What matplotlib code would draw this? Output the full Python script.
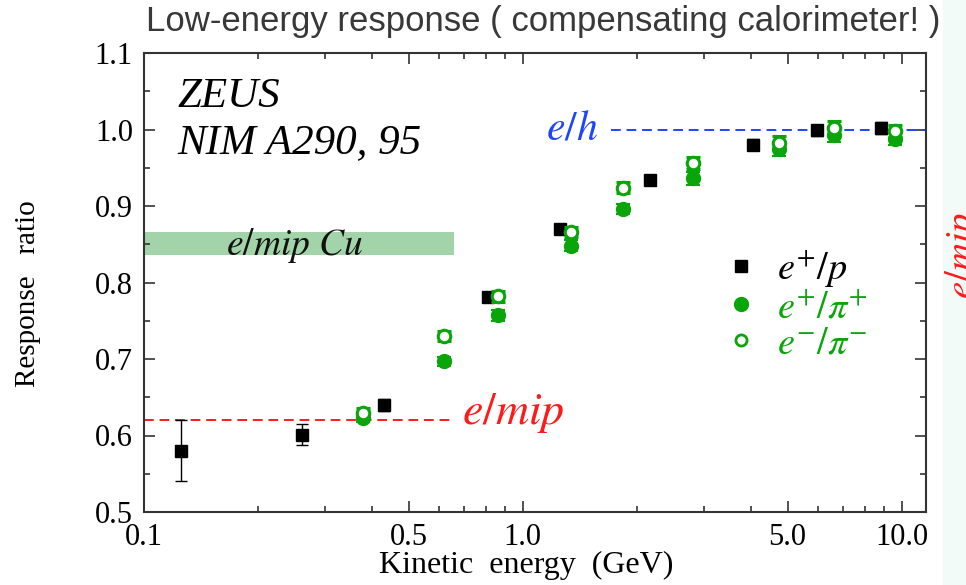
import numpy as np
import matplotlib.pyplot as plt
from matplotlib.patches import Rectangle
from matplotlib.lines import Line2D
from matplotlib.ticker import FixedLocator, NullFormatter

plt.rcParams['mathtext.fontset'] = 'stix'
SERIF = 'Liberation Serif'

# --- data ---
# e+/p
ep_energy = [0.125, 0.262, 0.431, 0.810, 1.25, 2.17, 4.05, 5.98, 8.84]
ep_ratio = [0.580, 0.601, 0.640, 0.781, 0.870, 0.934, 0.980, 0.999, 1.002]
ep_err = [0.040, 0.014, 0.008, 0.004, 0.004, 0.005, 0.007, 0.007, 0.008]

# e+/pi+ and e-/pi- share energies
pi_energy = [0.378, 0.619, 0.861, 1.344, 1.84, 2.81, 4.76, 6.65, 9.58]
pip_ratio = [0.623, 0.697, 0.757, 0.848, 0.896, 0.936, 0.975, 0.993, 0.988]
pip_err = [0.006, 0.006, 0.007, 0.007, 0.007, 0.008, 0.009, 0.009, 0.008]
pim_ratio = [0.630, 0.730, 0.782, 0.866, 0.924, 0.956, 0.983, 1.002, 0.998]
pim_err = [0.006, 0.006, 0.007, 0.007, 0.007, 0.008, 0.009, 0.009, 0.008]

# reference levels
emip_level = 0.62
emip_xmax = 0.658
eh_level = 1.0
eh_xmin = 1.71
emip_cu_low, emip_cu_high = 0.836, 0.866

xticks = [0.1, 0.5, 1.0, 5.0, 10.0]
xticklabels = ['0.1', '0.5', '1.0', '5.0', '10.0']
xminor = [0.2, 0.3, 0.4, 0.6, 0.7, 0.8, 0.9, 2, 3, 4, 6, 7, 8, 9]
yticks = [0.5, 0.6, 0.7, 0.8, 0.9, 1.0, 1.1]

green = '#0aa50a'
red = '#ff1a1a'
blue = '#1f44ff'
axcol = '#333333'

fig = plt.figure(figsize=(9.66, 5.85), dpi=100)
ax = fig.add_axes([144 / 966, 1 - 512 / 585, (926 - 144) / 966, (512 - 53) / 585])

# pale strip on the right edge (neighbouring slide), its label only partly visible
fig.patches.append(Rectangle((943 / 966, 0), 30 / 966, 1, transform=fig.transFigure,
                             color='#f3fbf9', zorder=0))
fig.text(962 / 966, 1 - 255 / 585, r'$e/mip$', rotation=90, color=red, fontsize=28,
         ha='center', va='center')

ax.set_xscale('log')
ax.set_xlim(0.1, 11.6)
ax.set_ylim(0.5, 1.1)

# e/mip Cu band
ax.axhspan(emip_cu_low, emip_cu_high, xmin=0, xmax=np.log10(emip_xmax / 0.1) / np.log10(116),
           color='#a3d4a9', lw=0, zorder=1)
ax.text(0.25, (emip_cu_low + emip_cu_high) / 2 - 0.002, r'$e/mip\ Cu$', fontsize=27,
        ha='center', va='center', color='#111111', zorder=2)

# reference lines
ax.hlines(emip_level, 0.1, emip_xmax, colors=red, linestyles=(0, (5, 3)), lw=1.4, zorder=2)
ax.text(0.69, emip_level + 0.01, r'$e/mip$', color=red, fontsize=33, ha='left', va='center')
ax.hlines(eh_level, eh_xmin, 11.6, colors=blue, linestyles=(0, (5, 3)), lw=1.4, zorder=2)
ax.text(1.58, eh_level + 0.002, r'$e/h$', color=blue, fontsize=30, ha='right', va='center')

# data
ax.errorbar(ep_energy, ep_ratio, yerr=ep_err, fmt='s', color='black', ms=8.5,
            capsize=4, elinewidth=1.0, capthick=1.0, zorder=3)
ax.errorbar(pi_energy, pip_ratio, yerr=pip_err, fmt='o', color=green, ms=10,
            capsize=5, elinewidth=1.5, capthick=1.5, zorder=4)
ax.errorbar(pi_energy, pim_ratio, yerr=pim_err, fmt='o', color=green, mfc='white',
            mec=green, mew=2.2, ms=9, capsize=5, elinewidth=1.5, capthick=1.5, zorder=5)

# annotations
ax.text(0.043, 0.904, 'ZEUS', transform=ax.transAxes, fontsize=31, fontfamily=SERIF,
        style='italic', va='center', ha='left')
ax.text(0.043, 0.804, 'NIM A290, 95', transform=ax.transAxes, fontsize=31, fontfamily=SERIF,
        style='italic', va='center', ha='left')

handles = [
    Line2D([], [], ls='', marker='s', color='black', ms=8),
    Line2D([], [], ls='', marker='o', color=green, ms=10),
    Line2D([], [], ls='', marker='o', color=green, mfc='white', mew=2, ms=8),
]
labels = [r'$e^{+}/p$', r'$e^{+}/\pi^{+}$', r'$e^{-}/\pi^{-}$']
leg = ax.legend(handles, labels, loc='center left', bbox_to_anchor=(0.714, 0.452),
                frameon=False, fontsize=27.5, handlelength=1.0, handletextpad=0.45,
                labelspacing=0.0, borderpad=0)
for t, c in zip(leg.get_texts(), ['black', green, green]):
    t.set_color(c)

# axes styling
ax.xaxis.set_major_locator(FixedLocator(xticks))
ax.set_xticklabels(xticklabels)
ax.xaxis.set_minor_locator(FixedLocator(xminor))
ax.xaxis.set_minor_formatter(NullFormatter())
ax.set_yticks(yticks)
ax.set_yticklabels([f'{v:.1f}' for v in yticks])
ax.yaxis.set_minor_locator(FixedLocator(np.arange(0.55, 1.1, 0.1)))
ax.tick_params(which='both', direction='in', top=True, right=True, color=axcol, width=1.2)
ax.tick_params(which='major', length=8, labelsize=22, pad=8)
ax.tick_params(which='minor', length=4)
for lab in ax.get_xticklabels() + ax.get_yticklabels():
    lab.set_fontfamily(SERIF)
for s in ax.spines.values():
    s.set_color(axcol)
    s.set_linewidth(1.5)

ax.set_xlabel('Kinetic  energy  (GeV)', fontsize=23, fontfamily=SERIF)
ax.xaxis.set_label_coords((526 - 144) / 782, -(551 - 512) / 459)
ax.set_ylabel('Response   ratio', fontsize=21, fontfamily=SERIF)
ax.yaxis.set_label_coords(-(144 - 41) / 782, (512 - 294) / 459)

fig.text(543 / 966, 1 - 22 / 585, 'Low-energy response ( compensating calorimeter! )',
         fontsize=25, color='#383838', ha='center', va='center',
         fontfamily=['Liberation Sans Narrow', 'Liberation Sans', 'DejaVu Sans'])

fig.savefig('out.png', dpi=100)
